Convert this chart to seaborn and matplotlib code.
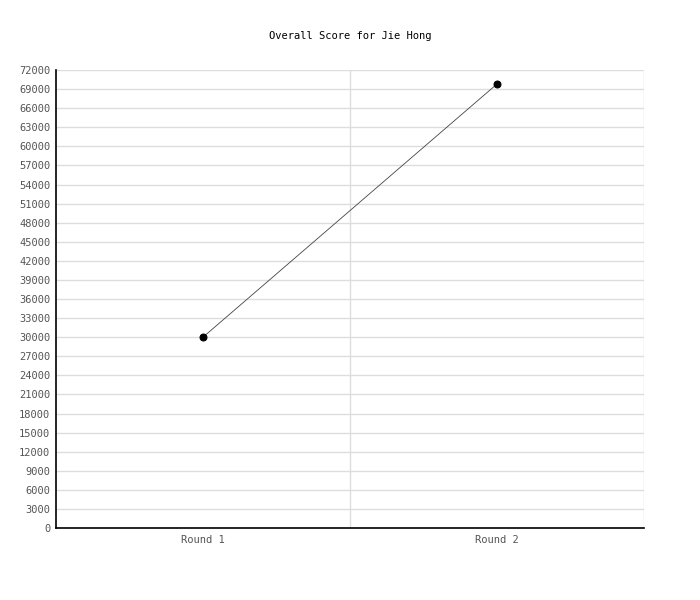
import seaborn as sns
import matplotlib.pyplot as plt
import pandas as pd
from matplotlib.ticker import MultipleLocator, FixedLocator

# Data
rounds = ['Round 1', 'Round 2']
scores = [30000, 69800]

df = pd.DataFrame({'round': rounds, 'score': scores})

sns.set_style('white')
plt.rcParams['font.family'] = ['DejaVu Sans Mono']

fig = plt.figure(figsize=(7, 6), dpi=100)
ax = fig.add_axes([0.08, 0.12, 0.84, 0.7633])

sns.lineplot(data=df, x='round', y='score', ax=ax, color='#444444', linewidth=0.6,
             marker='o', markersize=5, markerfacecolor='black', markeredgecolor='black')

ax.set_xlim(-0.5, 1.5)
ax.set_ylim(0, 72000)
ax.yaxis.set_major_locator(MultipleLocator(3000))
ax.xaxis.set_minor_locator(FixedLocator([0.5, 1.5]))
ax.grid(axis='y', which='major', color='#dddddd', linewidth=1)
ax.grid(axis='x', which='minor', color='#dddddd', linewidth=1)
ax.set_axisbelow(True)

for side in ['top', 'right']:
    ax.spines[side].set_visible(False)
ax.spines['left'].set_color('black')
ax.spines['bottom'].set_color('black')
ax.spines['left'].set_linewidth(1.2)
ax.spines['bottom'].set_linewidth(1.2)

ax.tick_params(axis='both', which='both', length=0, labelsize=7.5, labelcolor='#555555')
ax.tick_params(axis='y', pad=4)
ax.tick_params(axis='x', pad=5)
ax.set_xlabel('')
ax.set_ylabel('')

fig.text(0.5, 1 - 36 / 600, 'Overall Score for Jie Hong', ha='center', va='center',
         fontsize=7.5, color='black')

fig.savefig('out.png', dpi=100)
